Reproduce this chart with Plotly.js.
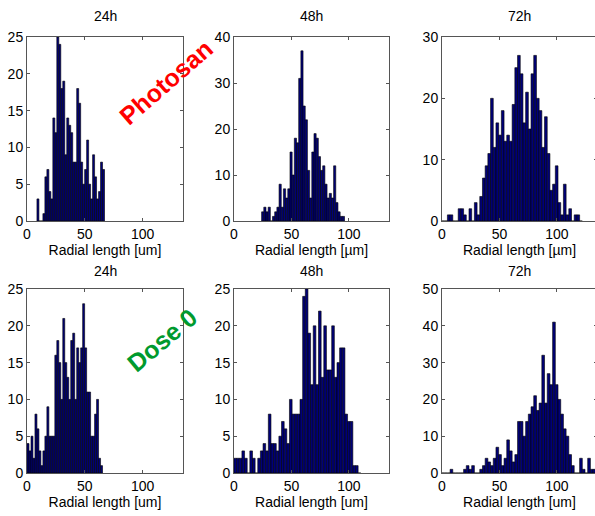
<!DOCTYPE html>
<html>
<head>
<meta charset="utf-8">
<script src="https://cdn.plot.ly/plotly-3.0.1.min.js"></script>
<style>html,body{margin:0;padding:0;overflow:hidden;background:#fff;}</style>
</head>
<body>
<div id="chart" style="width:600px;height:516px;"></div>
<script>
// Histogram data: bin start edge, bin width, counts per bin
const titles = ["24h", "48h", "72h", "24h", "48h", "72h"];
const xTitles = ["Radial length [um]", "Radial length [µm]", "Radial length [µm]",
                 "Radial length [um]", "Radial length [um]", "Radial length [um]"];
const groupLabels = ["Photosan", "Dose 0"];

const p24_start = 8.6, p24_width = 1.72;
const p24_counts = [3,0,0,1,6,7,4,3,14,12,25,24,18,19,9,14,13,12,8,8,18,16,8,5,7,11,5,3,9,6,3,4,8,7];

const p48_start = 24.05, p48_width = 1.9;
const p48_counts = [2,3,2,3,0,1,2,3,8,3,7,5,7,15,10,18,17,31,37,25,22,11,5,15,19,18,14,11,12,8,5,6,5,12,4,2,1,1];

const p72_start = 0, p72_width = 2.35;
const p72_counts = [0,0,1,1,0,0,2,2,1,0,2,0,3,1,4,7,9,11,20,12,16,14,18,13,14,13,19,25,27,24,16,21,15,24,27,20,18,12,17,11,5,6,9,3,1,6,1,2,0,1,1,0];

const d24_start = 0, d24_width = 1.72;
const d24_counts = [4,3,5,2,8,6,3,1,3,5,9,5,5,5,16,18,15,10,21,15,13,10,18,19,10,17,15,17,23,17,11,11,5,5,8,10,2,1];

const d48_start = 0, d48_width = 2.3;
const d48_counts = [2,2,2,3,2,0,3,2,0,2,3,4,3,8,4,4,3,5,7,6,4,10,8,8,8,10,24,25,19,12,20,12,22,13,20,14,14,20,13,15,17,17,8,7,7,1,1,0];

const d72_start = 0, d72_width = 2.35;
const d72_counts = [0,0,0,1,0,0,0,0,1,2,1,2,0,0,1,2,4,3,2,4,7,5,2,4,9,6,3,5,14,14,10,14,16,18,21,17,19,32,19,27,24,41,24,20,16,12,10,5,2,0,0,4,1,0,4,1,1,0];

const yMax = [25, 40, 30, 25, 25, 50];
const yStep = [5, 10, 10, 5, 5, 10];
const xTicks = [0, 50, 100];

const panels = [
  [p24_start, p24_width, p24_counts],
  [p48_start, p48_width, p48_counts],
  [p72_start, p72_width, p72_counts],
  [d24_start, d24_width, d24_counts],
  [d48_start, d48_width, d48_counts],
  [d72_start, d72_width, d72_counts]
];

// ---- layout geometry (pixels in a 600 x 516 paper) ----
const W = 600, H = 516;
const colPx = [[27, 183], [234, 389], [442, 597]];
const rowPx = [[37, 221], [289, 473]];
const FONT = "Liberation Sans, Arial, sans-serif";

const traces = [];
const layout = {
  width: W, height: H,
  margin: {l: 0, r: 0, t: 0, b: 0},
  paper_bgcolor: "#ffffff",
  plot_bgcolor: "#ffffff",
  showlegend: false,
  bargap: 0,
  font: {family: FONT, size: 14, color: "#000"},
  annotations: []
};

panels.forEach((p, k) => {
  const [start, w, counts] = p;
  const centers = counts.map((_, i) => start + w * (i + 0.5));
  const ax = k === 0 ? "" : String(k + 1);
  traces.push({
    type: "bar",
    x: centers, y: counts, width: w,
    xaxis: "x" + ax, yaxis: "y" + ax,
    marker: {color: "#000078", line: {color: "#000000", width: 0.6}},
    hoverinfo: "x+y"
  });
  const r = Math.floor(k / 3), c = k % 3;
  const xd = [colPx[c][0] / W, Math.min(colPx[c][1] / W, 1)];
  const yd = [1 - rowPx[r][1] / H, 1 - rowPx[r][0] / H];
  const axisCommon = {
    showline: true, linecolor: "#555", linewidth: 1, mirror: "ticks",
    ticks: "inside", ticklen: 3, tickcolor: "#555",
    showgrid: false, zeroline: false,
    tickfont: {family: FONT, size: 14, color: "#000"}
  };
  layout["xaxis" + ax] = Object.assign({}, axisCommon, {
    domain: xd, anchor: "y" + ax, range: [0, 135],
    tickmode: "array", tickvals: xTicks, ticktext: xTicks.map(String),
    title: {text: xTitles[k], font: {family: FONT, size: 14, color: "#000"}, standoff: 4}
  });
  layout["yaxis" + ax] = Object.assign({}, axisCommon, {
    domain: yd, anchor: "x" + ax, range: [0, yMax[k]],
    tick0: 0, dtick: yStep[k]
  });
  layout.annotations.push({
    xref: "paper", yref: "paper",
    x: (xd[0] + colPx[c][1] / W) / 2,
    y: 1 - (r === 0 ? 16 : 271) / H,
    text: titles[k], showarrow: false,
    xanchor: "center", yanchor: "middle",
    font: {family: FONT, size: 14, color: "#000"}
  });
});

layout.annotations.push({
  xref: "paper", yref: "paper", x: 166 / W, y: 1 - 82 / H,
  text: "<b>" + groupLabels[0] + "</b>", showarrow: false, textangle: -41,
  xanchor: "center", yanchor: "middle",
  font: {family: FONT, size: 25, color: "#ff0000"}
});
layout.annotations.push({
  xref: "paper", yref: "paper", x: 162 / W, y: 1 - 340 / H,
  text: "<b>" + groupLabels[1] + "</b>", showarrow: false, textangle: -40,
  xanchor: "center", yanchor: "middle",
  font: {family: FONT, size: 25, color: "#009a2e"}
});

Plotly.newPlot("chart", traces, layout, {displayModeBar: false, staticPlot: true});
</script>
</body>
</html>
